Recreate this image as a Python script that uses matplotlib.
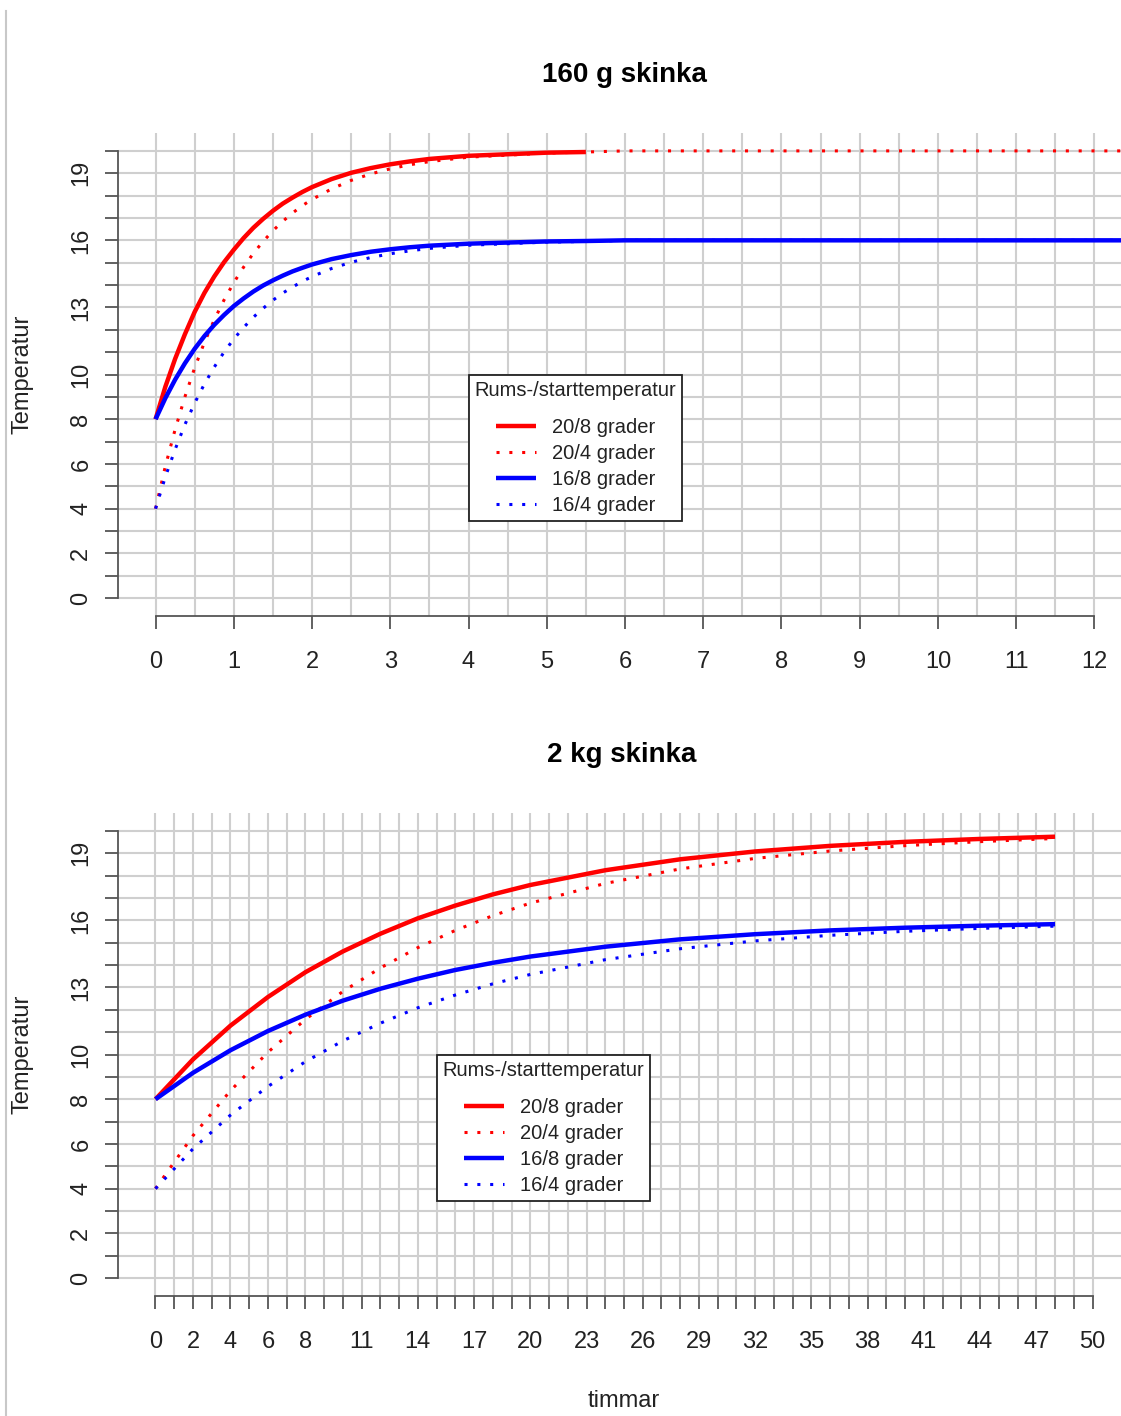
import matplotlib
matplotlib.use('Agg')
import matplotlib.pyplot as plt
from matplotlib.lines import Line2D
import numpy as np

plt.rcParams['font.family'] = ['Liberation Sans', 'DejaVu Sans']

# 160 g skinka (hours)
small_t = [0, 0.125, 0.25, 0.375, 0.5, 0.625, 0.75, 0.875, 1, 1.125, 1.25, 1.375, 1.5, 1.625, 1.75,
           1.875, 2, 2.25, 2.5, 2.75, 3, 3.25, 3.5, 4, 5, 5.5, 6, 8, 10, 12.5]
small_20_8 = [8, 9.45, 10.7, 11.8, 12.8, 13.65, 14.38, 15.02, 15.58, 16.1, 16.56, 16.96, 17.32, 17.64, 17.91,
              18.16, 18.38, 18.74, 19.02, 19.23, 19.4, 19.53, 19.64, 19.78, 19.92, 19.95,
              np.nan, np.nan, np.nan, np.nan]
small_20_4 = [4, 5.89, 7.54, 9.0, 10.3, 11.44, 12.44, 13.33, 14.11, 14.8, 15.42, 15.95, 16.43, 16.85, 17.22,
              17.55, 17.83, 18.3, 18.68, 18.97, 19.2, 19.38, 19.52, 19.72, 19.9, 19.95,
              20.0, 20.0, 20.0, 20.0]
small_16_8 = [8, 8.94, 9.77, 10.5, 11.15, 11.72, 12.22, 12.66, 13.06, 13.4, 13.71, 13.98, 14.21, 14.42, 14.61,
              14.77, 14.92, 15.16, 15.34, 15.49, 15.6, 15.69, 15.76, 15.85, 15.95, 15.97,
              16.0, 16.0, 16.0, 16.0]
small_16_4 = [4, 5.42, 6.65, 7.76, 8.72, 9.58, 10.33, 11.0, 11.59, 12.1, 12.56, 12.96, 13.32, 13.64, 13.91,
              14.16, 14.38, 14.74, 15.02, 15.23, 15.4, 15.53, 15.64, 15.78, 15.92, 15.95,
              16.0, 16.0, 16.0, 16.0]

# 2 kg skinka (hours)
big_t = [0, 2, 4, 6, 8, 10, 12, 14, 16, 18, 20, 24, 28, 32, 36, 40, 44, 48]
big_20_8 = [8, 9.78, 11.29, 12.57, 13.68, 14.61, 15.40, 16.09, 16.66, 17.16, 17.58, 18.24, 18.73, 19.08,
            19.33, 19.51, 19.64, 19.74]
big_20_4 = [4, 6.37, 8.38, 10.10, 11.57, 12.82, 13.87, 14.78, 15.55, 16.21, 16.77, 17.65, 18.30, 18.77,
            19.10, 19.34, 19.52, 19.66]
big_16_8 = [8, 9.18, 10.19, 11.05, 11.78, 12.41, 12.94, 13.39, 13.78, 14.10, 14.38, 14.82, 15.15, 15.38,
            15.55, 15.67, 15.76, 15.83]
big_16_4 = [4, 5.78, 7.29, 8.57, 9.68, 10.61, 11.40, 12.09, 12.66, 13.16, 13.58, 14.24, 14.73, 15.08,
            15.33, 15.51, 15.64, 15.74]

labels = ['20/8 grader', '20/4 grader', '16/8 grader', '16/4 grader']
legend_title = 'Rums-/starttemperatur'

y_ticks = list(range(0, 21))
y_ticklabels = ['0', '', '2', '', '4', '', '6', '', '8', '', '10', '', '', '13', '', '', '16', '', '', '19', '']
small_xticks = list(range(0, 13))
small_xgrid = list(np.arange(0.5, 12, 1.0))
big_xticks = list(range(0, 51))
big_shown = [0, 2, 4, 6, 8, 11, 14, 17, 20, 23, 26, 29, 32, 35, 38, 41, 44, 47, 50]
big_xticklabels = [str(v) if v in big_shown else '' for v in big_xticks]

W, H = 1121, 1416
fig = plt.figure(figsize=(W / 100, H / 100), dpi=100)
ax1 = fig.add_axes([118 / W, 1 - 616 / H, 1014 / W, 483 / H])
ax2 = fig.add_axes([118 / W, 1 - 1296 / H, 1012 / W, 483 / H])

solid_lw = 3.2
dot_lw = 2.2
dotted = (0, (1, 3.2))
grid_kw = dict(color='#cfcfcf', lw=1.5, zorder=0)


def style(ax, xlim, xticks, xticklabels, xgrid):
    ax.set_xlim(*xlim)
    ax.set_ylim(-0.8, 20.8)
    ax.set_xticks(xticks)
    ax.set_xticklabels(xticklabels)
    if xgrid:
        ax.set_xticks(xgrid, minor=True)
        ax.grid(True, which='minor', axis='x', **grid_kw)
    ax.set_yticks(y_ticks)
    ax.set_yticklabels(y_ticklabels)
    ax.grid(True, which='major', axis='both', **grid_kw)
    ax.tick_params(axis='x', which='minor', length=0)
    ax.tick_params(which='major', direction='out', length=9.5, width=1.3, color='#555555',
                   labelsize=17, labelcolor='#222222')
    ax.tick_params(axis='x', pad=16)
    ax.tick_params(axis='y', pad=9, labelrotation=90)
    for lab in ax.get_yticklabels():
        lab.set_va('center')
    for s in ['top', 'right']:
        ax.spines[s].set_visible(False)
    for s in ['left', 'bottom']:
        ax.spines[s].set_color('#555555')
        ax.spines[s].set_linewidth(1.3)
    ax.spines['left'].set_bounds(0, 20)
    ax.spines['bottom'].set_bounds(xticks[0], xticks[-1])
    ax.set_axisbelow(True)


def curves(ax, t, a, b, c, d):
    h1, = ax.plot(t, a, color='red', lw=solid_lw, solid_capstyle='butt', label=labels[0])
    h2, = ax.plot(t, b, color='red', lw=dot_lw, ls=dotted, label=labels[1])
    h3, = ax.plot(t, c, color='blue', lw=solid_lw, solid_capstyle='butt', label=labels[2])
    h4, = ax.plot(t, d, color='blue', lw=dot_lw, ls=dotted, label=labels[3])
    return [h1, h2, h3, h4]


def add_legend(ax, handles, x, y):
    leg = ax.legend(handles=handles, title=legend_title, loc='upper left',
                    bbox_to_anchor=(x, y), bbox_transform=ax.transData, borderaxespad=0,
                    fontsize=14.5, title_fontsize=14.5, fancybox=False, framealpha=1,
                    edgecolor='#222222', handlelength=2.0, handletextpad=0.8,
                    labelspacing=0.36, borderpad=0.3)
    leg.get_frame().set_linewidth(1.3)
    # wider gap between title and entries, as in the original
    leg._legend_box.sep = 13
    for txt in leg.get_texts():
        txt.set_color('#222222')
    leg.get_title().set_color('#222222')


style(ax1, (-0.48, 12.48), small_xticks, [str(v) for v in small_xticks], small_xgrid)
h = curves(ax1, small_t, small_20_8, small_20_4, small_16_8, small_16_4)
add_legend(ax1, h, 4, 10)

style(ax2, (-2, 52), big_xticks, big_xticklabels, None)
h = curves(ax2, big_t, big_20_8, big_20_4, big_16_8, big_16_4)
add_legend(ax2, h, 15, 10)

fig.text(624 / W, 1 - 75 / H, '160 g skinka', ha='center', va='center', fontsize=20, fontweight='bold')
fig.text(622 / W, 1 - 755 / H, '2 kg skinka', ha='center', va='center', fontsize=20, fontweight='bold')
fig.text(22 / W, 1 - 374 / H, 'Temperatur', rotation=90, ha='center', va='center', fontsize=17,
         color='#222222')
fig.text(22 / W, 1 - 1054 / H, 'Temperatur', rotation=90, ha='center', va='center', fontsize=17,
         color='#222222')
fig.text(624 / W, 1 - 1401 / H, 'timmar', ha='center', va='center', fontsize=17, color='#222222')

fig.add_artist(Line2D([6 / W, 6 / W], [1 - 11 / H, 0], color='#c8c8c8', lw=1.5))

fig.savefig('out.png', dpi=100)
